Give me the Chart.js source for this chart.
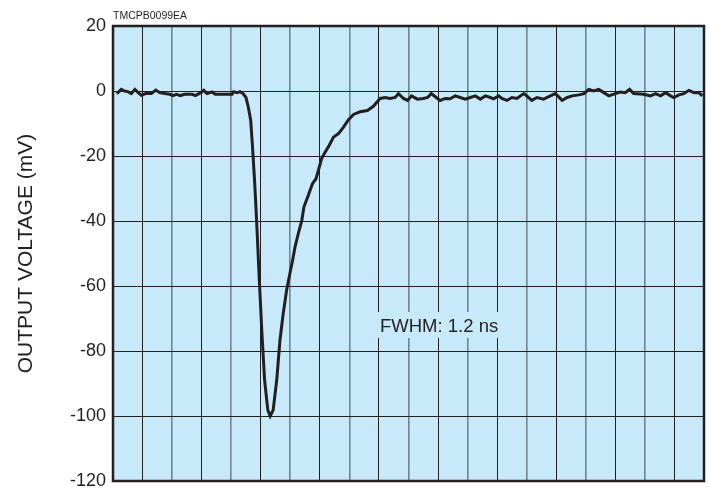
<!DOCTYPE html>
<html lang="en">
    <head>
        <title> Output Waveform </title>
        <script src="https://cdn.jsdelivr.net/npm/chart.js@4.4.0/dist/chart.umd.min.js"></script>
        <style>
            html, body { margin: 0; padding: 0; background: #ffffff; }
            #wrap { width: 709px; height: 489px; }
        </style>
    </head>

    <body>
        <div id="wrap"><canvas id="myChart" width="709" height="489"></canvas></div>

        <script>

            // time (ns) (1 division = 1 ns)
            const timeNs = [
                0.13, 0.28, 0.39, 0.50, 0.62, 0.74, 0.85, 0.96, 1.10, 1.30,
                1.45, 1.58, 1.75, 1.92, 2.03, 2.15, 2.28, 2.42, 2.56, 2.68,
                2.79, 2.97, 3.07, 3.18, 3.35, 3.46, 3.70, 3.90, 4.03, 4.08,
                4.20, 4.30, 4.40, 4.50, 4.58, 4.66, 4.72, 4.79, 4.86, 4.95,
                5.04, 5.13, 5.24, 5.32, 5.42, 5.54, 5.65, 5.76, 5.88, 5.99,
                6.08, 6.16, 6.27, 6.39, 6.46, 6.61, 6.75, 6.87, 6.95, 7.06,
                7.18, 7.32, 7.46, 7.63, 7.80, 7.97, 8.14, 8.36, 8.61, 8.81,
                9.04, 9.21, 9.38, 9.55, 9.66, 9.83, 9.97, 10.10, 10.30, 10.50,
                10.65, 10.77, 10.94, 11.07, 11.24, 11.41, 11.58, 11.75, 11.92, 12.09,
                12.26, 12.43, 12.60, 12.77, 12.88, 13.05, 13.16, 13.33, 13.50, 13.67,
                13.90, 14.00, 14.17, 14.35, 14.57, 14.80, 14.97, 15.20, 15.37, 15.54,
                15.77, 15.94, 16.10, 16.27, 16.44, 16.61, 16.78, 17.00, 17.17, 17.34,
                17.48, 17.62, 17.96, 18.19, 18.36, 18.53, 18.70, 18.87, 18.98, 19.15,
                19.32, 19.49, 19.66, 19.83, 19.94
            ];

            // output voltage (mV)
            const voltageMv = [
                -0.8, 0.5, 0.0, -0.2, -0.8, 0.5, -0.5, -1.3, -0.8, -0.8,
                0.3, -0.5, -0.8, -1.0, -1.4, -1.0, -1.4, -1.0, -1.0, -1.0,
                -1.4, -0.5, 0.2, -0.8, -0.3, -1.0, -1.0, -1.0, -1.0, -0.2,
                -0.5, -0.2, -0.8, -2.0, -5.0, -9.0, -17.0, -27.5, -39.8, -58.0,
                -74.6, -89.0, -98.2, -100.0, -98.2, -89.0, -76.7, -68.5, -61.0, -56.0,
                -52.0, -48.0, -43.9, -39.8, -35.7, -32.1, -28.5, -27.0, -24.4, -20.8,
                -18.8, -16.7, -14.2, -13.1, -11.1, -8.8, -7.2, -6.4, -6.0, -4.7,
                -2.3, -2.0, -2.3, -2.0, -0.8, -2.3, -2.9, -1.5, -2.5, -2.3,
                -2.0, -0.8, -2.0, -2.9, -2.3, -2.4, -1.5, -2.0, -2.5, -2.0,
                -1.5, -2.5, -1.5, -2.0, -2.4, -1.5, -2.3, -2.9, -2.0, -2.3,
                -0.8, -1.5, -2.9, -2.0, -2.5, -1.5, -0.8, -2.9, -2.0, -1.5,
                -1.2, -0.8, 0.5, 0.0, 0.5, -0.5, -1.5, -0.8, -0.3, -0.5,
                0.5, -0.8, -1.0, -1.5, -0.8, -1.5, -0.5, -1.5, -2.0, -1.2,
                -0.8, 0.2, -0.5, -0.5, -1.5
            ];

            const yTicks = [20, 0, -20, -40, -60, -80, -100, -120];
            const yTitle = 'OUTPUT VOLTAGE (mV)';
            const noteText = 'FWHM: 1.2 ns';
            const codeText = 'TMCPB0099EA';

            const INK = '#231f20';
            const PLOT_BG = '#c7e9f9';
            const FONT = '"Liberation Sans", Arial, Helvetica, sans-serif';

            const points = timeNs.map ((t, i) => ({ x: t, y: voltageMv[i] }));

            // light blue plot area, black frame, FWHM note, figure code
            const decor = {
                id: 'decor',
                beforeDraw (chart) {
                    const { ctx, chartArea: a } = chart;
                    ctx.save ();
                    ctx.fillStyle = PLOT_BG;
                    ctx.fillRect (a.left, a.top, a.right - a.left, a.bottom - a.top);
                    ctx.restore ();
                },
                beforeDatasetsDraw (chart) {
                    const { ctx } = chart;
                    ctx.save ();
                    // box behind the note hides the grid
                    ctx.fillStyle = PLOT_BG;
                    ctx.fillRect (374, 312, 131, 26);
                    ctx.fillStyle = INK;
                    ctx.font = '18.5px ' + FONT;
                    ctx.textBaseline = 'alphabetic';
                    ctx.fillText (noteText, 380, 332);
                    ctx.restore ();
                },
                afterDraw (chart) {
                    const { ctx, chartArea: a } = chart;
                    ctx.save ();
                    ctx.strokeStyle = INK;
                    ctx.lineWidth = 2.5;
                    ctx.strokeRect (a.left, a.top, a.right - a.left, a.bottom - a.top);
                    ctx.fillStyle = INK;
                    ctx.font = '10.5px ' + FONT;
                    ctx.fillText (codeText, 113, 19);
                    ctx.restore ();
                }
            };

            const ctx = document.getElementById ('myChart').getContext ('2d');
            const myChart = new Chart (ctx, {
                type: 'line',
                data: {
                    datasets: [{
                        data: points,
                        borderColor: INK,
                        borderWidth: 3,
                        pointRadius: 0,
                        tension: 0,
                        fill: false
                    }]
                },
                options: {
                    responsive: false,
                    animation: false,
                    events: [],
                    layout: { padding: { left: 0, right: 5, top: 26, bottom: 8 } },
                    plugins: {
                        legend: { display: false },
                        tooltip: { enabled: false }
                    },
                    scales: {
                        x: {
                            type: 'linear',
                            min: 0,
                            max: 20,
                            border: { display: false },
                            afterFit: scale => { scale.height = 0; },
                            ticks: { display: false, stepSize: 1 },
                            grid: {
                                drawTicks: false,
                                color: c => (c.tick && c.tick.value % 2 === 1) ? INK : '#6e8692',
                                lineWidth: c => (c.tick && c.tick.value % 2 === 1) ? 1 : 1.6
                            }
                        },
                        y: {
                            min: -120,
                            max: 20,
                            border: { display: false },
                            afterBuildTicks: scale => {
                                scale.ticks = yTicks.map (v => ({ value: v }));
                            },
                            afterFit: scale => {
                                scale.width = 113;
                                scale.paddingTop = 0;
                                scale.paddingBottom = 0;
                            },
                            ticks: {
                                color: INK,
                                padding: 7,
                                font: { family: FONT, size: 18 }
                            },
                            grid: { drawTicks: false, color: INK, lineWidth: 1 },
                            title: {
                                display: true,
                                text: yTitle,
                                color: INK,
                                padding: { top: 14, bottom: 0 },
                                font: { family: FONT, size: 21 }
                            }
                        }
                    }
                },
                plugins: [decor]
            });

        </script>
    </body>
</html>
